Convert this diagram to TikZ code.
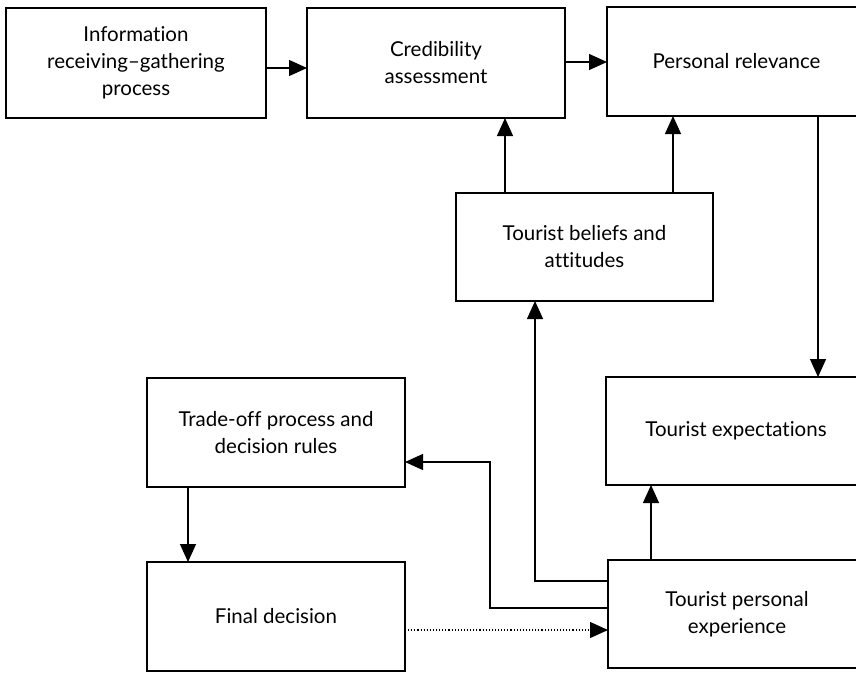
\documentclass[tikz,border=0pt]{standalone}
\usepackage{fontspec}
\setmainfont{Lato}[Ligatures={TeX,NoCommon,NoContextual}]
\usetikzlibrary{arrows.meta}
\begin{document}
\begin{tikzpicture}[x=1pt,y=-1pt,
  box/.style={draw,line width=1.8pt,inner sep=0pt,outer sep=0pt,align=center,
    font=\fontsize{20.5}{27}\selectfont,text=black},
  arr/.style={line width=1.3pt,-{Triangle[length=18pt,width=16pt]}},
  dotarr/.style={line width=1.1pt,dotted,-{Triangle[length=18pt,width=16pt]}}]
\useasboundingbox (0,0) rectangle (856,673);
\clip (0,0) rectangle (856,673);
\node[box,minimum width=260pt,minimum height=110pt] (info) at (136,63) {Information\\receiving–gathering\\process};
\node[box,minimum width=258pt,minimum height=110pt] (cred) at (436,63) {Credibility\\assessment};
\node[box,minimum width=259pt,minimum height=109pt] (pers) at (736.5,61.5) {Personal relevance};
\node[box,minimum width=257pt,minimum height=108pt] (bel) at (584.5,247) {Tourist beliefs and\\attitudes};
\node[box,minimum width=260pt,minimum height=108pt] (exp) at (736,431) {Tourist expectations};
\node[box,minimum width=258pt,minimum height=108pt] (tpe) at (737,614) {Tourist personal\\experience};
\node[box,minimum width=258pt,minimum height=109pt] (trade) at (276,432.5) {Trade-off process and\\decision rules};
\node[box,minimum width=258pt,minimum height=109pt] (final) at (276,616.5) {Final decision};
\draw[arr] (info.east |- 0,68) -- (cred.west |- 0,68);
\draw[arr] (cred.east |- 0,62) -- (pers.west |- 0,62);
\draw[arr] (bel.north -| 505,0) -- (cred.south -| 505,0);
\draw[arr] (bel.north -| 673,0) -- (pers.south -| 673,0);
\draw[arr] (pers.south -| 818,0) -- (exp.north -| 818,0);
\draw[arr] (tpe.north -| 651,0) -- (exp.south -| 651,0);
\draw[arr] (tpe.west |- 0,581) -- (535,581) -- (bel.south -| 535,0);
\draw[arr] (tpe.west |- 0,608) -- (490,608) -- (490,462) -- (trade.east |- 0,462);
\draw[arr] (trade.south -| 188,0) -- (final.north -| 188,0);
\draw[dotarr] (final.east |- 0,630) -- (tpe.west |- 0,630);
\end{tikzpicture}
\end{document}
